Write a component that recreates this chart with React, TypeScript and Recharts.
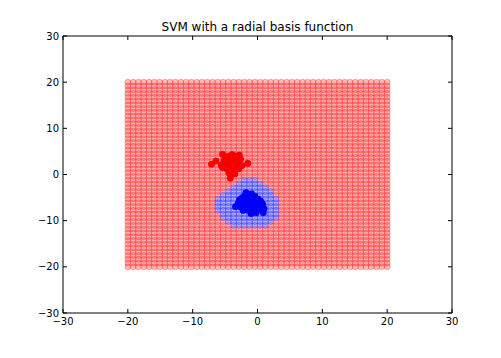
import React from "react";
import {
  ScatterChart,
  Scatter,
  XAxis,
  YAxis,
} from "recharts";

// axis ticks
const xTicks = [-30, -20, -10, 0, 10, 20, 30];
const yTicks = [-30, -20, -10, 0, 10, 20, 30];

// evaluation mesh (50 x 50 between -20 and 20)
const meshMin = -20;
const meshMax = 20;
const meshCount = 50;

// mesh rows classified as the blue class: [row index, first column, last column]
const blueRows: [number, number, number][] = [
  [11, 20, 26],
  [12, 19, 27],
  [13, 18, 28],
  [14, 18, 28],
  [15, 17, 28],
  [16, 17, 28],
  [17, 17, 28],
  [18, 17, 28],
  [19, 18, 27],
  [20, 19, 27],
  [21, 20, 26],
  [22, 21, 25],
  [23, 22, 24],
];

// training samples, class 1 (red)
const redSamples: [number, number][] = [
  [-7.1, 2.2], [-6.4, 2.9], [-5.4, 4.4], [-2.8, 4.2], [-1.5, 2.4], [-4.2, -0.8],
  [-4.5, 3.5], [-3.9, 3.8], [-3.3, 3.6], [-4.8, 2.9], [-4.2, 3.0], [-3.6, 3.1],
  [-3.0, 2.9], [-5.2, 2.5], [-4.6, 2.3], [-4.0, 2.4], [-3.4, 2.5], [-2.8, 2.3],
  [-5.0, 1.8], [-4.4, 1.6], [-3.8, 1.8], [-3.2, 1.6], [-4.1, 1.0], [-3.6, 0.8],
  [-4.7, 1.2], [-3.9, 4.3], [-4.3, 4.0], [-3.2, 4.0], [-2.6, 3.3], [-5.6, 2.0],
  [-2.4, 1.9], [-4.4, 0.3], [-3.5, 0.1], [-5.1, 3.3], [-3.7, 2.0], [-4.9, 3.9],
  [-2.9, 1.2], [-5.4, 1.5],
];

// training samples, class 2 (blue)
const blueSamples: [number, number][] = [
  [-1.8, -3.9], [-0.9, -4.2], [-1.3, -4.5], [-0.4, -4.7], [-2.2, -4.9], [-1.5, -5.0],
  [-0.7, -5.1], [0.1, -5.3], [-2.8, -5.6], [-2.0, -5.7], [-1.2, -5.8], [-0.4, -5.9],
  [0.5, -5.8], [-3.0, -6.3], [-2.3, -6.4], [-1.6, -6.5], [-0.8, -6.6], [0.0, -6.5],
  [0.8, -6.4], [-3.4, -7.0], [-2.6, -7.1], [-1.9, -7.2], [-1.1, -7.0], [-0.3, -7.3],
  [0.5, -7.7], [1.0, -7.4], [-1.4, -7.8], [-0.6, -8.0], [-2.2, -7.8], [0.9, -8.3],
  [-1.0, -8.5], [-0.2, -8.3], [-1.7, -6.0], [-0.9, -4.7], [-2.5, -5.2], [0.3, -6.1],
];

const meshValue = (i: number) => meshMin + (i * (meshMax - meshMin)) / (meshCount - 1);

const isBlue = (row: number, col: number) =>
  blueRows.some(([r, a, b]) => r === row && col >= a && col <= b);

const redMesh: { x: number; y: number }[] = [];
const blueMesh: { x: number; y: number }[] = [];
for (let row = 0; row < meshCount; row++) {
  for (let col = 0; col < meshCount; col++) {
    const p = { x: meshValue(col), y: meshValue(row) };
    if (isBlue(row, col)) blueMesh.push(p);
    else redMesh.push(p);
  }
}

const redData = redSamples.map(([x, y]) => ({ x, y }));
const blueData = blueSamples.map(([x, y]) => ({ x, y }));

const fmt = (v: number) => (v < 0 ? "\u2212" + Math.abs(v) : String(v));
const FONT = "'DejaVu Sans', sans-serif";

const meshDot = (color: string) => (p: any) => (
  <circle
    cx={p.cx}
    cy={p.cy}
    r={3}
    fill={color}
    fillOpacity={0.27}
    stroke={color}
    strokeOpacity={0.27}
    strokeWidth={1}
  />
);

const sampleDot = (color: string) => (p: any) => (
  <circle cx={p.cx} cy={p.cy} r={3.3} fill={color} stroke="#000" strokeOpacity={0.15} strokeWidth={0.5} />
);

function BottomTick(p: any) {
  const { x, y, payload } = p;
  return (
    <g>
      <line x1={x} y1={y} x2={x} y2={y - 4} stroke="#000" />
      <text x={x} y={y + 12} textAnchor="middle" fontSize={10} fontFamily={FONT} fill="#000">
        {fmt(payload.value)}
      </text>
    </g>
  );
}

function LeftTick(p: any) {
  const { x, y, payload } = p;
  return (
    <g>
      <line x1={x} y1={y} x2={x + 4} y2={y} stroke="#000" />
      <text x={x - 4} y={y + 3.6} textAnchor="end" fontSize={10} fontFamily={FONT} fill="#000">
        {fmt(payload.value)}
      </text>
    </g>
  );
}

function TopTick(p: any) {
  const { x, y } = p;
  return <line x1={x} y1={y} x2={x} y2={y + 4} stroke="#000" />;
}

function RightTick(p: any) {
  const { x, y } = p;
  return <line x1={x} y1={y} x2={x - 4} y2={y} stroke="#000" />;
}

export default function App() {
  return (
    <div style={{ position: "absolute", left: 0, top: 0, width: 501, height: 358, background: "#fff" }}>
      <ScatterChart width={501} height={358} margin={{ top: 35, right: 48, bottom: 0, left: 0 }}>
        <XAxis
          xAxisId="b"
          dataKey="x"
          type="number"
          domain={[-30, 30]}
          ticks={xTicks}
          interval={0}
          height={45}
          tickSize={0}
          tickMargin={0}
          tickLine={false}
          axisLine={{ stroke: "#000" }}
          tick={<BottomTick />}
        />
        <XAxis
          xAxisId="t"
          orientation="top"
          dataKey="x"
          type="number"
          domain={[-30, 30]}
          ticks={xTicks}
          interval={0}
          height={1}
          tickSize={0}
          tickMargin={0}
          tickLine={false}
          axisLine={{ stroke: "#000" }}
          tick={<TopTick />}
        />
        <YAxis
          yAxisId="l"
          dataKey="y"
          type="number"
          domain={[-30, 30]}
          ticks={yTicks}
          interval={0}
          width={63}
          tickSize={0}
          tickMargin={0}
          tickLine={false}
          axisLine={{ stroke: "#000" }}
          tick={<LeftTick />}
        />
        <YAxis
          yAxisId="r"
          orientation="right"
          dataKey="y"
          type="number"
          domain={[-30, 30]}
          ticks={yTicks}
          interval={0}
          width={1}
          tickSize={0}
          tickMargin={0}
          tickLine={false}
          axisLine={{ stroke: "#000" }}
          tick={<RightTick />}
        />
        <Scatter xAxisId="b" yAxisId="l" data={redMesh} shape={meshDot("#ff0000")} isAnimationActive={false} />
        <Scatter xAxisId="t" yAxisId="r" data={blueMesh} shape={meshDot("#0000ff")} isAnimationActive={false} />
        <Scatter xAxisId="b" yAxisId="l" data={redData} shape={sampleDot("#ff0000")} isAnimationActive={false} />
        <Scatter xAxisId="b" yAxisId="l" data={blueData} shape={sampleDot("#0000ff")} isAnimationActive={false} />
        <text x={257.5} y={31} textAnchor="middle" fontSize={12} fontFamily={FONT} fill="#000">
          SVM with a radial basis function
        </text>
      </ScatterChart>
    </div>
  );
}
